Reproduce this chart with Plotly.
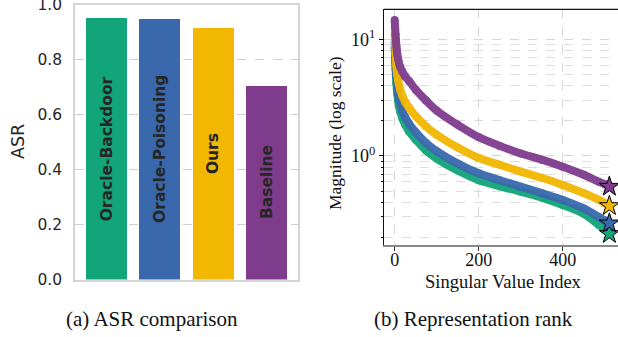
import plotly.graph_objects as go

W, H = 618, 337

# ---------------- data ----------------
methods = ["Oracle-Backdoor", "Oracle-Poisoning", "Ours", "Baseline"]
asr = [0.952, 0.950, 0.915, 0.706]
colors = ["#11A579", "#3969AC", "#F2B701", "#7F3C8D"]

sv_index = [0, 1, 2, 3, 4, 5, 6, 8, 10, 13, 18, 25, 34, 50, 74, 100, 150,
            200, 250, 300, 350, 400, 450, 486, 500, 511]
sv_backdoor = [8.5, 6.8, 5.6, 4.8, 4.2, 3.8, 3.4, 3.0, 2.7, 2.4, 2.1, 1.85, 1.62,
               1.38, 1.12, 0.95, 0.75, 0.62, 0.55, 0.494, 0.44, 0.38, 0.32,
               0.256, 0.235, 0.215]
sv_poisoning = [9.5, 7.8, 6.3, 5.4, 4.8, 4.3, 3.9, 3.4, 3.1, 2.8, 2.45, 2.15, 1.9,
                1.6, 1.3, 1.1, 0.86, 0.71, 0.62, 0.546, 0.48, 0.42, 0.355,
                0.30, 0.28, 0.265]
sv_ours = [10.9, 9.2, 7.6, 6.6, 5.9, 5.4, 5.0, 4.5, 4.1, 3.7, 3.3, 2.9, 2.6,
           2.2, 1.8, 1.52, 1.18, 0.96, 0.84, 0.735, 0.65, 0.565, 0.48,
           0.42, 0.395, 0.373]
sv_baseline = [14.6, 12.6, 11.0, 9.8, 8.8, 8.1, 7.5, 6.8, 6.3, 5.8, 5.3, 4.8, 4.4,
               3.7, 3.0, 2.45, 1.85, 1.45, 1.22, 1.05, 0.93, 0.81, 0.69,
               0.60, 0.575, 0.546]
sv_series = [sv_backdoor, sv_poisoning, sv_ours, sv_baseline]

y_ticks_a = [0.0, 0.2, 0.4, 0.6, 0.8, 1.0]
x_ticks_b = [0, 200, 400]
y_major_b = [1, 10]
y_major_b_text = ["10<sup>0</sup>", "10<sup>1</sup>"]
y_minor_b = [0.2, 0.3, 0.4, 0.5, 0.6, 0.7, 0.8, 0.9, 2, 3, 4, 5, 6, 7, 8, 9]

# ---------------- figure ----------------
fig = go.Figure()

fig.add_trace(go.Bar(
    x=list(range(len(methods))), y=asr, marker=dict(color=colors, line=dict(width=0)),
    width=0.77, xaxis="x", yaxis="y", showlegend=False,
))

for i, (m, v) in enumerate(zip(methods, asr)):
    fig.add_annotation(
        x=i, y=v / 2, xref="x", yref="y", text="<b>" + m + "</b>", textangle=-90,
        xanchor="center", yanchor="middle",
        showarrow=False, font=dict(family="DejaVu Sans", size=15.5, color="#262626"),
    )

for name, vals, c in zip(methods, sv_series, colors):
    fig.add_trace(go.Scatter(
        x=sv_index, y=vals, mode="lines+markers", name=name,
        line=dict(color=c, width=8, shape="spline", smoothing=0.7),
        marker=dict(color=c, size=8),
        opacity=0.95, xaxis="x2", yaxis="y2", showlegend=False, cliponaxis=False,
    ))
for name, vals, c in zip(methods, sv_series, colors):
    fig.add_trace(go.Scatter(
        x=[sv_index[-1]], y=[vals[-1]], mode="markers",
        marker=dict(symbol="star", size=15, color=c, line=dict(color="black", width=1)),
        xaxis="x2", yaxis="y2", showlegend=False, cliponaxis=False,
    ))

px = lambda v: v / W
py = lambda v: 1 - v / H

fig.update_layout(
    width=W, height=H, margin=dict(l=0, r=0, t=0, b=0, autoexpand=False),
    paper_bgcolor="white", plot_bgcolor="white",
    bargap=0,
    xaxis=dict(domain=[px(75), px(298)], range=[-0.59, 3.59], showticklabels=False,
               showgrid=False, zeroline=False, ticks="", automargin=False,
               showline=True, linecolor="#d4d4d4", linewidth=1.5, mirror=True),
    yaxis=dict(domain=[py(279.5), py(5)], range=[0, 1.0], tickvals=y_ticks_a,
               ticktext=[f"{t:.1f}" for t in y_ticks_a], ticks="", automargin=False,
               tickfont=dict(family="DejaVu Sans", size=15.5, color="#262626"),
               showgrid=True, gridcolor="#cfcfcf", griddash="dash", gridwidth=1,
               zeroline=False, showline=True, linecolor="#d4d4d4", linewidth=1.5,
               mirror=True, ticklabelstandoff=8, ticklabeloverflow="allow"),
    xaxis2=dict(domain=[px(384), 1.0], range=[-25.5, 531.6], tickvals=x_ticks_b,
                ticks="outside", ticklen=4, tickcolor="#333", automargin=False,
                tickfont=dict(family="Liberation Serif", size=18, color="#111"),
                showgrid=True, gridcolor="#d6d6d6", griddash="dash", gridwidth=1,
                zeroline=False, showline=True, linecolor="#888888", linewidth=2,
                anchor="y2", ticklabeloverflow="allow", ticklabelstandoff=-7),
    yaxis2=dict(domain=[py(245), py(9.3)], type="log", range=[-0.763, 1.257],
                tickvals=y_major_b, ticktext=y_major_b_text, automargin=False,
                ticks="outside", ticklen=4, tickcolor="#111",
                tickfont=dict(family="Liberation Serif", size=18, color="#111"),
                showgrid=True, gridcolor="#d6d6d6", griddash="dash", gridwidth=1,
                minor=dict(tickmode="array", tickvals=y_minor_b, ticks="outside",
                           ticklen=2, tickcolor="#111", showgrid=True,
                           gridcolor="#dedede", griddash="dash", gridwidth=1),
                zeroline=False, showline=True, linecolor="#111", linewidth=1.2,
                anchor="x2", ticklabeloverflow="allow"),
    font=dict(family="DejaVu Sans"),
)

# top spine of right panel
fig.add_shape(type="line", xref="x2 domain", yref="y2 domain", x0=0, x1=1, y0=1, y1=1,
              line=dict(color="#111", width=1.2))

# axis titles & captions
ann = dict(xref="paper", yref="paper", showarrow=False, xanchor="center", yanchor="middle")
fig.add_annotation(x=px(18), y=py(142), text="ASR", textangle=-90,
                   font=dict(family="DejaVu Sans", size=17.5, color="#262626"), **ann)
fig.add_annotation(x=px(335), y=py(133), text="Magnitude (log scale)", textangle=-90,
                   font=dict(family="Liberation Serif", size=17.5, color="#111"), **ann)
fig.add_annotation(x=px(503), y=py(282), text="Singular Value Index",
                   font=dict(family="Liberation Serif", size=18.5, color="#111"), **ann)
fig.add_annotation(x=px(152), y=py(319), text="(a) ASR comparison",
                   font=dict(family="Liberation Serif", size=21, color="#111"), **ann)
fig.add_annotation(x=px(473), y=py(319), text="(b) Representation rank",
                   font=dict(family="Liberation Serif", size=21, color="#111"), **ann)

fig.write_html("out.html", config={"displayModeBar": False},
               post_script="document.body.style.margin='0';document.body.style.overflow='hidden';")
